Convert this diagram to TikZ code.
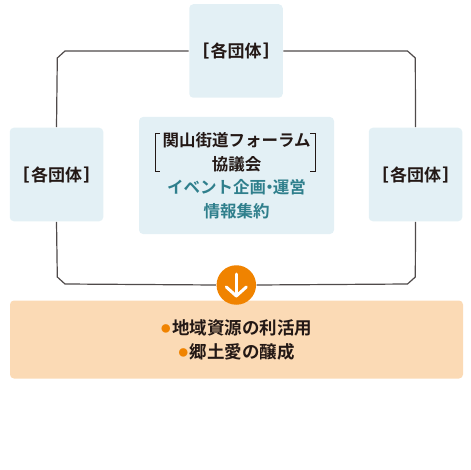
\documentclass[tikz,border=0pt]{standalone}
\usepackage{fontspec}
\setmainfont{Noto Sans CJK JP}[BoldFont={Noto Sans CJK JP Bold}]
\newfontfamily\lightcjk{Noto Sans CJK JP}
\definecolor{PanelBlue}{HTML}{E3F0F5}
\definecolor{PanelPeach}{HTML}{FBDAB5}
\definecolor{DotOrange}{HTML}{F08300}
\definecolor{FrameGrey}{HTML}{4F4A4A}
\definecolor{TextDark}{HTML}{231815}
\definecolor{TextTeal}{HTML}{2F7F8C}
\newcommand{\grouplabel}{{\lightcjk ［}\hspace{1.5pt}各団体\hspace{1.5pt}{\lightcjk ］}}
\newcommand{\orangedot}{\raisebox{1.6pt}{\color{DotOrange}\fontsize{9.5}{9.5}\selectfont ●}\hspace{1.5pt}}
\tikzset{
  panel/.style={fill=PanelBlue,rounded corners=4pt,inner sep=0pt,align=center,
    text=TextDark,font=\fontsize{16.5}{23.5}\selectfont\bfseries},
  groupbox/.style={panel,minimum width=93.5pt,minimum height=93.5pt,font=\fontsize{17}{23.5}\selectfont\bfseries}
}
\begin{document}
\begin{tikzpicture}[x=1pt,y=-1pt,line width=1.2pt,draw=FrameGrey]
\useasboundingbox (0,0) rectangle (470,470);
\coordinate (framenw1) at (65,51);
\coordinate (framenw2) at (57.3,58);
\coordinate (framene1) at (407.5,51);
\coordinate (framene2) at (415.3,58);
\coordinate (framesw1) at (57.3,277);
\coordinate (framesw2) at (65,284);
\coordinate (framese1) at (415.3,277);
\coordinate (framese2) at (407.5,284);
\node[groupbox] (grouptop) at (236,51) {\grouplabel};
\node[groupbox] (groupleft) at (56.5,174.5) {\grouplabel};
\node[groupbox] (groupright) at (415.5,174.5) {\grouplabel};
\node[panel,minimum width=195pt,minimum height=117pt] (forum) at (236.5,175.5)
  {関山街道フォーラム\\協議会\\
   \textcolor{TextTeal}{イベント企画\hspace{-.3em}・\hspace{-.3em}運営}\\
   \textcolor{TextTeal}{情報集約}};
\node[fill=PanelPeach,rounded corners=4pt,inner sep=0pt,minimum width=453pt,minimum height=78pt,
  align=center,text=TextDark,font=\fontsize{17.5}{24}\selectfont\bfseries] (result) at (236.5,339.5)
  {\orangedot 地域資源の利活用\\\orangedot 郷土愛の醸成};
\node[circle,fill=DotOrange,minimum size=39.5pt,inner sep=0pt] (arrowdot) at (236.3,285) {};
\draw (grouptop.west) -- (framenw1) -- (framenw2) -- (groupleft.north);
\draw (grouptop.east) -- (framene1) -- (framene2) -- (groupright.north);
\draw (groupleft.south) -- (framesw1) -- (framesw2) -- (arrowdot.west);
\draw (groupright.south) -- (framese1) -- (framese2) -- (arrowdot.east);
\draw[white,line width=3pt,line cap=round,line join=round]
  ([yshift=11pt]arrowdot.center) -- ([yshift=-11pt]arrowdot.center);
\draw[white,line width=3pt,line cap=round,line join=round]
  ([xshift=-10pt,yshift=-2pt]arrowdot.center) -- ([yshift=-11pt]arrowdot.center) -- ([xshift=10pt,yshift=-2pt]arrowdot.center);
\draw[line width=.8pt,draw=TextDark] (160,133) -| (155,171) -- (160,171);
\draw[line width=.8pt,draw=TextDark] (310,133) -| (315,171) -- (310,171);
\end{tikzpicture}
\end{document}
